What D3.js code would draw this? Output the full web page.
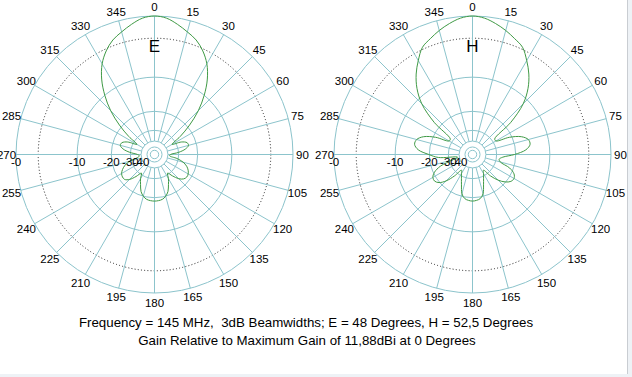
<!DOCTYPE html>
<html><head><meta charset="utf-8">
<script src="https://cdn.jsdelivr.net/npm/d3@7"></script>
<style>
html,body{margin:0;padding:0;background:#fff;}
svg{display:block;font-family:Arial,"Liberation Sans",sans-serif;}
</style></head>
<body>
<svg id="chart" width="632" height="377"></svg>
<script>
// ---- data ----
const angles = [0,5,10,15,20,25,30,35,40,45,50,55,60,65,70,75,80,85,90,95,100,105,110,115,120,125,130,135,140,145,150,155,160,165,170,175,
  180,185,190,195,200,205,210,215,220,225,230,235,240,245,250,255,260,265,270,275,280,285,290,295,300,305,310,315,320,325,330,335,340,345,350,355];
const gainE = [0,-0.2,-0.8,-1.5,-2.2,-3.3,-4.8,-7.0,-10.0,-13.8,-19.0,-25.5,-33,-26.5,-23.8,-23.5,-25.5,-30,-37,-38,-31,-26.5,-24,-22.6,-21.8,-21.6,-22.2,-24,-27.5,-31,-27.5,-24.6,-21.6,-20,-19.1,-18.8,
  -18.7,-18.8,-19.1,-20,-21.6,-24.6,-27.5,-31,-27,-23.5,-21.8,-21.7,-22.2,-23.5,-25.5,-29,-36,-38,-36,-29.5,-25.2,-23.4,-23.8,-26.5,-33,-25.5,-19.0,-13.8,-10.0,-7.0,-4.8,-3.3,-2.2,-1.5,-0.8,-0.2];
const gainH = [0,-0.2,-0.7,-1.3,-2.0,-2.7,-4.2,-5.9,-8.1,-11.3,-17.5,-28,-28,-21,-16.8,-15.0,-14.8,-16.3,-20.5,-26,-28,-27,-21.5,-19,-18.2,-18.6,-20.2,-23,-27.5,-34,-31.5,-28.6,-25,-21,-19.4,-18.9,
  -18.7,-18.9,-19.4,-21,-25,-28.6,-31.5,-34,-27.5,-22.5,-19.8,-18.8,-19,-20.5,-24,-33,-38,-24,-19.8,-16,-14.7,-15,-16.8,-21,-28,-28,-17.5,-11.3,-8.1,-5.9,-4.2,-2.7,-2.0,-1.3,-0.7,-0.2];
const tickAngles = [0,15,30,45,60,75,90,105,120,135,150,165,180,195,210,225,240,255,270,285,300,315,330,345];
const ringDb = [0,-10,-20,-30,-40,-50,-60];
const dottedDb = [-3];
const dbLabels = ["-0","-10","-20","-30","-40"];
const dbLabelValues = [0,-10,-20,-30,-40];
const planes = ["E","H"];
const line1 = "Frequency = 145 MHz,  3dB Beamwidths; E = 48 Degrees, H = 52,5 Degrees";
const line2 = "Gain Relative to Maximum Gain of 11,88dBi at 0 Degrees";

// ---- layout ----
const R = 138.5;
const centers = [[154.5,154.5],[472.5,154.5]];
const gridColor = "#8cc4cc";
const traceColor = "#3f9a45";

// ARRL log scale: radius shrinks 0.89 per 2 dB
const lnScale = d3.scaleLinear().domain([0,-10]).range([Math.log(R), Math.log(R*Math.pow(0.89,5))]);
const rScale = db => Math.exp(lnScale(db));
const aScale = d3.scaleLinear().domain([0,360]).range([0,2*Math.PI]);

const svg = d3.select("#chart");
svg.append("rect").attr("width",632).attr("height",377).attr("fill","#fff");

const series = [gainE, gainH];
planes.forEach((p,i) => {
  const [cx,cy] = centers[i];
  const g = svg.append("g").attr("transform",`translate(${cx},${cy})`);
  g.selectAll("circle.ring").data(ringDb).join("circle")
    .attr("r", d => rScale(d)).attr("fill","none").attr("stroke",gridColor).attr("stroke-width",1);
  g.selectAll("circle.dot").data(dottedDb).join("circle")
    .attr("r", d => rScale(d)).attr("fill","none").attr("stroke","#222").attr("stroke-width",1)
    .attr("stroke-dasharray","1,2.2");
  g.selectAll("line.spoke").data(tickAngles).join("line")
    .attr("x1", d => rScale(-40)*Math.sin(aScale(d))).attr("y1", d => -rScale(-40)*Math.cos(aScale(d)))
    .attr("x2", d => R*Math.sin(aScale(d))).attr("y2", d => -R*Math.cos(aScale(d)))
    .attr("stroke",gridColor).attr("stroke-width",1);
  const pts = angles.map((a,k) => ({a, g: series[i][k]}));
  const lr = d3.lineRadial().angle(d => aScale(d.a)).radius(d => rScale(d.g))
    .curve(d3.curveCatmullRomClosed.alpha(0.5));
  g.append("path").attr("d", lr(pts)).attr("fill","none").attr("stroke",traceColor).attr("stroke-width",1);
  g.selectAll("text.ang").data(tickAngles).join("text")
    .attr("x", d => 148*Math.sin(aScale(d))).attr("y", d => -148*Math.cos(aScale(d)))
    .attr("text-anchor","middle").attr("dominant-baseline","central")
    .attr("font-size","11.5px").attr("fill","#000").text(d => d);
  g.selectAll("text.db").data(dbLabelValues).join("text")
    .attr("x", d => -rScale(d)).attr("y", 7)
    .attr("text-anchor","middle").attr("dominant-baseline","central")
    .attr("font-size","11.5px").attr("fill","#000").text((d,k) => dbLabels[k]);
  g.append("text").attr("x",0).attr("y",-103).attr("text-anchor","middle")
    .attr("font-size","17px").attr("fill","#000").text(p);
});

svg.append("text").attr("x",306).attr("y",326.5).attr("text-anchor","middle")
  .attr("font-size","13.3px").attr("fill","#000").style("white-space","pre").text(line1);
svg.append("text").attr("x",307).attr("y",344.5).attr("text-anchor","middle")
  .attr("font-size","13.3px").attr("fill","#000").text(line2);

svg.append("rect").attr("x",628).attr("y",0).attr("width",4).attr("height",377).attr("fill","#eef2f6");
svg.append("line").attr("x1",627.5).attr("x2",627.5).attr("y1",0).attr("y2",374).attr("stroke","#c9cdd2");
svg.append("rect").attr("x",0).attr("y",374).attr("width",632).attr("height",3).attr("fill","#eef2f6");
</script>
</body></html>
